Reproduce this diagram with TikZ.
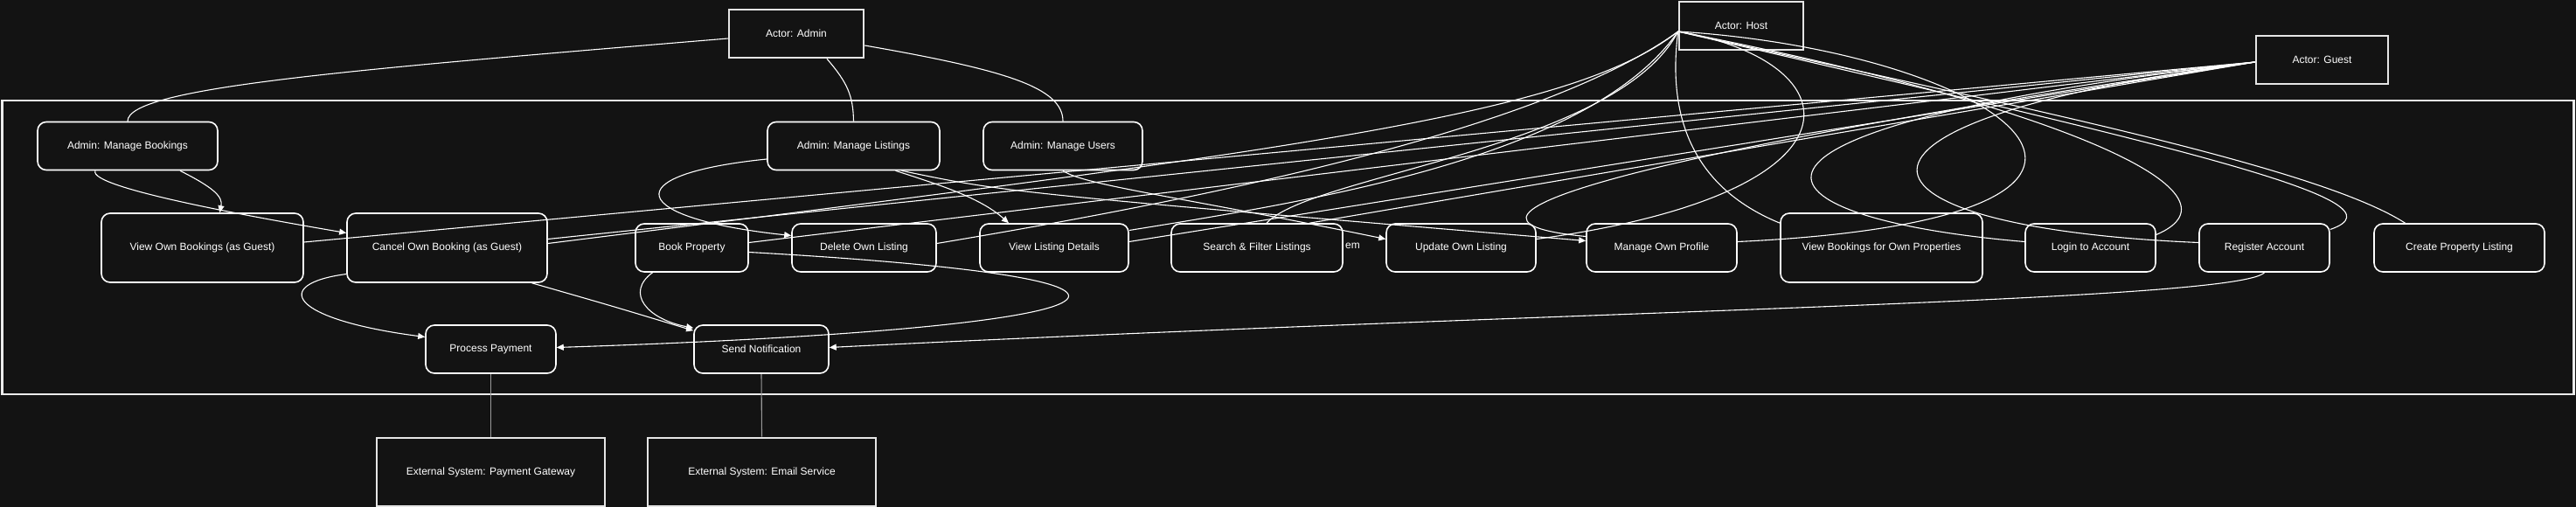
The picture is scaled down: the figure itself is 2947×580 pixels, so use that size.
\documentclass[tikz,border=0pt]{standalone}
\usepackage{fontspec}
\setmainfont{Liberation Sans}
\usetikzlibrary{arrows.meta}
\definecolor{bgc}{RGB}{19,19,19}
\begin{document}
\begin{tikzpicture}[x=1pt,y=-1pt,
  uc/.style={draw=white,line width=1.6pt,rounded corners=10pt,fill=bgc,text=white,font=\fontsize{12}{14}\selectfont,minimum height=55pt,inner sep=0pt},
  ucbig/.style={uc,minimum height=79pt},
  actor/.style={draw=white!80!gray,line width=2.6pt,fill=bgc,text=white,font=\fontsize{12}{14}\selectfont,minimum height=55pt,inner sep=0pt},
  ext/.style={actor,minimum height=78pt,minimum width=261pt},
  sysbox/.style={draw=white!85!gray,line width=2.6pt,inner sep=0pt},
  link/.style={draw=white,line width=1.1pt},
  arr/.style={link,-{Triangle[length=8pt,width=7pt]}},
  gline/.style={draw=gray!80!white,line width=1.1pt},
  lbl/.style={text=white,font=\fontsize{12}{14}\selectfont,inner sep=0pt}]
\fill[bgc] (0,0) rectangle (2947,580);
\useasboundingbox (0,0) rectangle (2947,580);
% system boundary
\node[sysbox,minimum width=2942pt,minimum height=336pt] (sys) at (1473.5,283) {};
% actors
\node[actor,minimum width=154pt] (A) at (911,38.5) {Actor: Admin};
\node[actor,minimum width=142pt] (H) at (1992,29.5) {Actor: Host};
\node[actor,minimum width=151pt] (G) at (2656.5,68.5) {Actor: Guest};
% edge label fragment
\node[lbl,anchor=west] (emlbl) at (1539,281) {em};
% use cases
\node[uc,minimum width=206pt] (AMB) at (146,167) {Admin: Manage Bookings};
\node[uc,minimum width=197pt] (AML) at (976.5,167) {Admin: Manage Listings};
\node[uc,minimum width=182pt] (AMU) at (1216,167) {Admin: Manage Users};
\node[ucbig,minimum width=231pt] (VOB) at (231.5,283.5) {View Own Bookings (as Guest)};
\node[ucbig,minimum width=229pt] (COB) at (511.5,283.5) {Cancel Own Booking (as Guest)};
\node[uc,minimum width=129pt] (BP) at (791.5,283.5) {Book Property};
\node[uc,minimum width=165pt] (DOL) at (988.5,283.5) {Delete Own Listing};
\node[uc,minimum width=170pt] (VLD) at (1206,283.5) {View Listing Details};
\node[uc,minimum width=196pt] (SFL) at (1438,283.5) {Search \& Filter Listings};
\node[uc,minimum width=171pt] (UOL) at (1671.5,283.5) {Update Own Listing};
\node[uc,minimum width=172pt] (MOP) at (1901,283.5) {Manage Own Profile};
\node[ucbig,minimum width=231pt] (VBOP) at (2152.5,283.5) {View Bookings for Own Properties};
\node[uc,minimum width=149pt] (LTA) at (2391.5,283.5) {Login to Account};
\node[uc,minimum width=149pt] (RA) at (2590.5,283.5) {Register Account};
\node[uc,minimum width=195pt] (CPL) at (2813.5,283.5) {Create Property Listing};
\node[uc,minimum width=149pt] (PP) at (561.5,399.5) {Process Payment};
\node[uc,minimum width=154pt] (SN) at (871,399.5) {Send Notification};
% external systems
\node[ext] (EPG) at (561.5,540) {External System: Payment Gateway};
\node[ext] (EES) at (871.5,540) {External System: Email Service};
% admin links
\draw[link] ([yshift=-5.5pt]A.west) .. controls (400,80) and (146,100) .. (AMB.north);
\draw[link] ([xshift=35pt]A.south) .. controls (970,95) and (976,110) .. (AML.north);
\draw[link] ([yshift=-13.5pt]A.east) .. controls (1150,80) and (1216,100) .. (AMU.north);
\draw[arr] ([xshift=60pt]AMB.south) .. controls (245,215) and (255,225) .. ([xshift=20pt]VOB.north);
\draw[arr] ([xshift=-37pt]AMB.south) .. controls (100,215) and (300,250) .. ([yshift=17pt]COB.west);
\draw[arr] ([yshift=-15pt]AML.west) .. controls (700,200) and (720,250) .. ([yshift=14pt]DOL.west);
\draw[arr] ([xshift=48pt]AML.south) .. controls (1070,210) and (1120,225) .. ([xshift=-52pt]VLD.north);
\draw[arr] ([xshift=55pt]AML.south) .. controls (1150,220) .. ([yshift=8pt]MOP.west);
\draw[arr] (AMU.south) .. controls (1240,212) and (1350,225) .. ([yshift=10pt]UOL.west);
% includes
\draw[arr] ([yshift=-30pt]COB.west) .. controls (310,325) and (330,365) .. ([yshift=14pt]PP.west);
\draw[arr] ([xshift=97pt]COB.south) .. controls (700,350) .. ([yshift=-7pt]SN.north west);
\draw[arr] ([xshift=-45pt]BP.south) .. controls (715,335) and (740,365) .. ([yshift=-4pt]SN.north west);
\draw[arr] ([yshift=-5pt]BP.east) .. controls (1420,320) and (1320,375) .. ([yshift=2pt]PP.east);
\draw[arr] (RA.south) .. controls (2560,345) and (1800,355) .. ([yshift=2pt]SN.east);
\draw[gline] (PP.south) -- (EPG.north);
\draw[gline] (SN.south) -- (EES.north);
% host links
\coordinate (hc) at ([yshift=-6.5pt]H.west);
\draw[link] (hc) .. controls (2300,120) and (2650,190) .. ([xshift=-62pt]CPL.north);
\draw[link] (hc) .. controls (2500,170) and (2760,230) .. ([yshift=21pt]RA.east);
\draw[link] (hc) .. controls (2350,120) and (2580,220) .. ([yshift=15pt]LTA.east);
\draw[link] (hc) .. controls (2300,60) and (2550,250) .. ([yshift=7pt]MOP.east);
\draw[link] (hc) .. controls (2120,70) and (2150,220) .. ([yshift=10pt]UOL.east);
\draw[link] (hc) .. controls (1905,150) and (1950,220) .. ([yshift=-12pt]VBOP.north west);
\draw[link] (hc) .. controls (1850,170) and (1500,200) .. ([xshift=11pt]SFL.north);
\draw[link] (hc) .. controls (1820,180) and (1500,230) .. ([yshift=20pt]VLD.east);
\draw[link] (hc) .. controls (1750,160) and (1300,240) .. ([yshift=5pt]DOL.east);
\draw[link] (hc) .. controls (1800,130) and (1500,170) .. ([yshift=5pt]COB.east);
% guest links
\coordinate (gc) at ([yshift=-2.5pt]G.west);
\draw[link] (gc) -- ([yshift=6.5pt]VOB.east);
\draw[link] (gc) -- ([yshift=10pt]COB.east);
\draw[link] (gc) -- ([yshift=6pt]BP.east);
\draw[link] (gc) -- ([yshift=7pt]VLD.east);
\draw[link] (gc) -- ([xshift=60pt]SFL.north);
\draw[link] (gc) .. controls (1900,170) and (1600,250) .. ([yshift=13pt]MOP.west);
\draw[link] (gc) .. controls (1900,150) and (2000,250) .. ([yshift=7pt]LTA.west);
\draw[link] (gc) .. controls (2050,140) and (2100,260) .. ([yshift=6pt]RA.west);
\end{tikzpicture}
\end{document}
